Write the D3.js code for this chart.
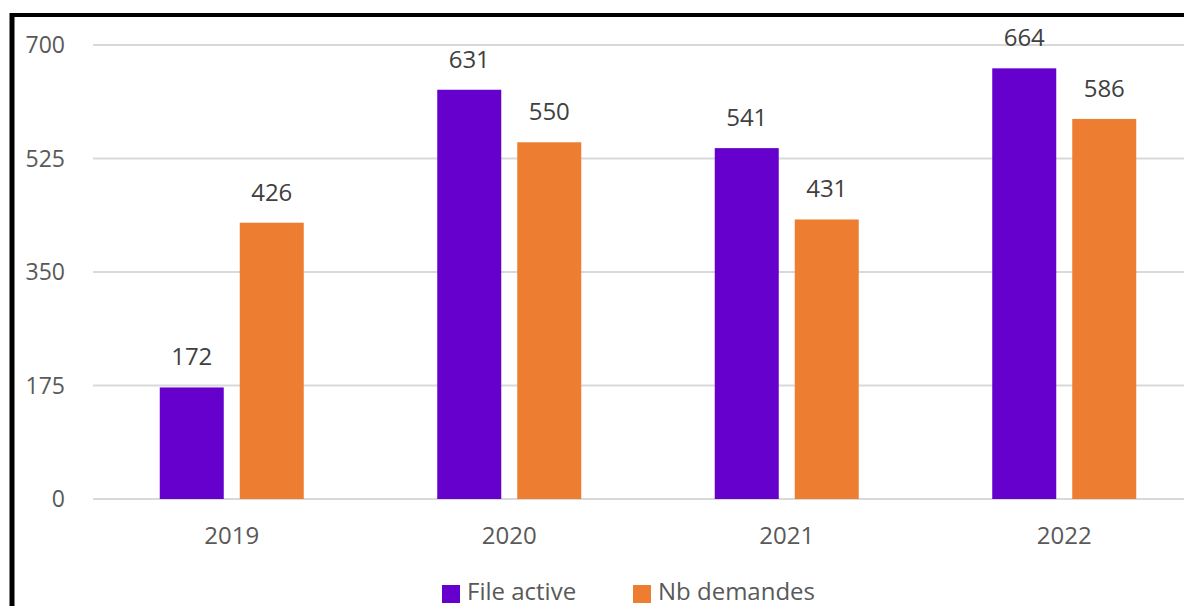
<!DOCTYPE html>
<html>
<head>
<meta charset="utf-8">
<script src="https://cdn.jsdelivr.net/npm/d3@7"></script>
<style>
  html, body { margin: 0; padding: 0; background: #fff; }
  svg text { font-family: "Open Sans", sans-serif; }
</style>
</head>
<body>
<div id="chart"></div>
<script>
// chart data
const years = ["2019", "2020", "2021", "2022"];
const seriesNames = ["File active", "Nb demandes"];
const fileActive = [172, 631, 541, 664];
const nbDemandes = [426, 550, 431, 586];
const yTicks = [0, 175, 350, 525, 700];
const colors = ["#6600CC", "#ED7D31"];

const width = 1184, height = 606;
const svg = d3.select("#chart").append("svg")
    .attr("width", width)
    .attr("height", height);

// frame (black border top and left)
svg.append("line").attr("x1", 10).attr("x2", width).attr("y1", 15).attr("y2", 15)
    .attr("stroke", "#000").attr("stroke-width", 4);
svg.append("line").attr("x1", 12).attr("x2", 12).attr("y1", 13).attr("y2", height)
    .attr("stroke", "#000").attr("stroke-width", 5);

const x = d3.scaleBand().domain(years).range([93, 1203]).padding(0);
const y = d3.scaleLinear().domain([0, 700]).range([499, 45]);

// gridlines
svg.append("g").selectAll("line").data(yTicks).join("line")
    .attr("x1", 93).attr("x2", width)
    .attr("y1", d => y(d)).attr("y2", d => y(d))
    .attr("stroke", "#d9d9d9").attr("stroke-width", 2);

// y labels
svg.append("g").selectAll("text").data(yTicks).join("text")
    .attr("x", 65).attr("y", d => y(d))
    .attr("dy", "0.35em")
    .attr("text-anchor", "end")
    .attr("font-size", 23)
    .attr("fill", "#595959")
    .text(d => d);

// x labels
svg.append("g").selectAll("text").data(years).join("text")
    .attr("x", d => x(d) + x.bandwidth() / 2)
    .attr("y", 544)
    .attr("text-anchor", "middle")
    .attr("font-size", 24)
    .attr("fill", "#595959")
    .text(d => d);

// bars
const barW = 64, offset = 40;
const series = [fileActive, nbDemandes];
series.forEach((vals, s) => {
    const g = svg.append("g");
    const dx = s === 0 ? -offset : offset;
    g.selectAll("rect").data(vals).join("rect")
        .attr("x", (d, i) => x(years[i]) + x.bandwidth() / 2 + dx - barW / 2)
        .attr("y", d => y(d))
        .attr("width", barW)
        .attr("height", d => y(0) - y(d))
        .attr("fill", colors[s]);
    g.selectAll("text").data(vals).join("text")
        .attr("x", (d, i) => x(years[i]) + x.bandwidth() / 2 + dx)
        .attr("y", d => y(d) - 22)
        .attr("text-anchor", "middle")
        .attr("font-size", 24)
        .attr("fill", "#404040")
        .text(d => d);
});

// legend
const legend = svg.append("g");
const legendX = [442, 633];
seriesNames.forEach((name, i) => {
    legend.append("rect")
        .attr("x", legendX[i]).attr("y", 585)
        .attr("width", 18).attr("height", 18)
        .attr("fill", colors[i]);
    legend.append("text")
        .attr("x", legendX[i] + 25).attr("y", 600)
        .attr("font-size", 24)
        .attr("fill", "#595959")
        .text(name);
});
</script>
</body>
</html>
